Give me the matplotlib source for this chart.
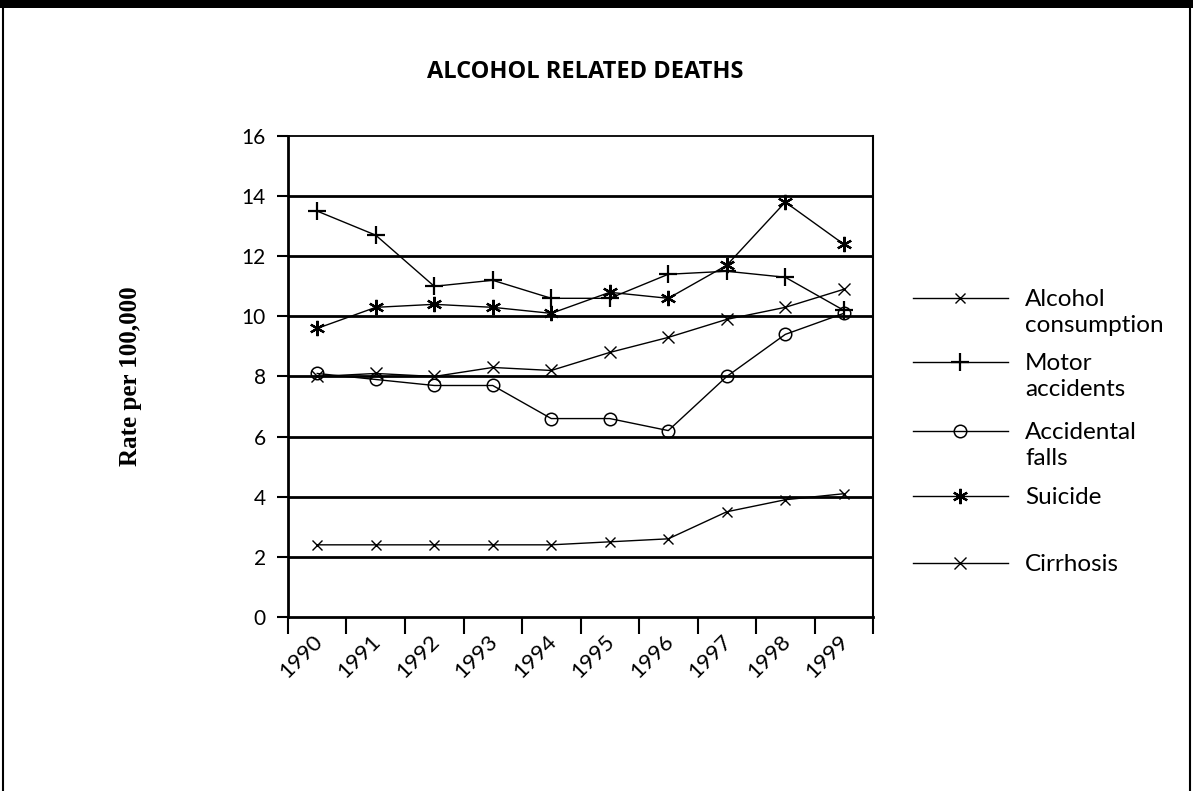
import matplotlib.pyplot as plt
import numpy as np
from matplotlib.lines import Line2D
from matplotlib.patches import Rectangle
import matplotlib.transforms as mtransforms

years = ['1990', '1991', '1992', '1993', '1994', '1995', '1996', '1997', '1998', '1999']
alcohol = [2.4, 2.4, 2.4, 2.4, 2.4, 2.5, 2.6, 3.5, 3.9, 4.1]
motor = [13.5, 12.7, 11.0, 11.2, 10.6, 10.6, 11.4, 11.5, 11.3, 10.2]
falls = [8.1, 7.9, 7.7, 7.7, 6.6, 6.6, 6.2, 8.0, 9.4, 10.1]
suicide = [9.6, 10.3, 10.4, 10.3, 10.1, 10.8, 10.6, 11.7, 13.8, 12.4]
cirrhosis = [8.0, 8.1, 8.0, 8.3, 8.2, 8.8, 9.3, 9.9, 10.3, 10.9]

labels = ['Alcohol\nconsumption', 'Motor\naccidents', 'Accidental\nfalls', 'Suicide', 'Cirrhosis']

plt.rcParams['font.family'] = ['Lato', 'DejaVu Sans']

fig = plt.figure(figsize=(11.93, 7.91), dpi=100)
ax = fig.add_axes([0.2414, 0.22, 0.4904, 0.6081])

x = np.arange(len(years))
styles = [
    dict(marker='x', ms=7, mew=1.0),
    dict(marker='+', ms=13, mew=1.6),
    dict(marker='o', ms=9, mfc='none', mew=1.1),
    dict(marker=(6, 2, 0), ms=11, mew=1.6),
    dict(marker='x', ms=8, mew=1.0),
]
series = [alcohol, motor, falls, suicide, cirrhosis]
for vals, st in zip(series, styles):
    ax.plot(x, vals, color='black', lw=1.0, mec='black', **st)

ax.set_xlim(-0.5, len(years) - 0.5)
ax.set_ylim(0, 16)
ax.set_yticks(range(0, 17, 2))
ax.set_xticks(np.arange(-0.5, len(years)), minor=False)
ax.set_xticklabels([])
ax.set_xticks(x, minor=True)
ax.set_xticklabels(years, minor=True, rotation=45, ha='right', fontsize=16)
ax.tick_params(axis='x', which='major', length=12, width=1.5, direction='out')
ax.tick_params(axis='x', which='minor', length=0, pad=10)
ax.tick_params(axis='y', length=8, width=1.5, labelsize=15, pad=8)
offset = mtransforms.ScaledTranslation(9 / 100, 0, fig.dpi_scale_trans)
for lab in ax.get_xticklabels(minor=True):
    lab.set_transform(lab.get_transform() + offset)

for yv in range(2, 16, 2):
    ax.axhline(yv, color='black', lw=2.0, zorder=0.5)

ax.spines['left'].set_linewidth(2.0)
ax.spines['bottom'].set_linewidth(2.0)
ax.spines['top'].set_linewidth(1.3)
ax.spines['right'].set_linewidth(1.5)

fig.text(585 / 1193, 1 - 72 / 791, 'ALCOHOL RELATED DEATHS', ha='center', va='center',
         fontsize=17, fontweight='bold', family=['Open Sans', 'DejaVu Sans'])
fig.text(0.109, 0.525, 'Rate per 100,000', rotation=90, ha='center', va='center',
         fontsize=18, fontweight='bold', family=['Liberation Serif'])

# legend drawn at the right of the chart
leg_y = [298, 362, 431, 496, 563]
for yy, lab, st in zip(leg_y, labels, styles):
    fy = 1 - yy / 791
    fig.add_artist(Line2D([913 / 1193, 1008 / 1193], [fy, fy], color='black', lw=1.0,
                          transform=fig.transFigure))
    fig.add_artist(Line2D([960 / 1193], [fy], color='black', lw=0, mec='black',
                          transform=fig.transFigure, **st))
    fig.text(1025 / 1193, fy + 9 / 791, lab, ha='left', va='top', fontsize=17.5,
             linespacing=1.3)

# page frame and scanned top band
fig.add_artist(Rectangle((0, 1 - 8 / 791), 1, 8 / 791, transform=fig.transFigure,
                         color='black', lw=0))
fig.add_artist(Line2D([3 / 1193, 3 / 1193], [0, 1], color='black', lw=1.5,
                      transform=fig.transFigure))
fig.add_artist(Line2D([1190 / 1193, 1190 / 1193], [0, 1], color='black', lw=1.5,
                      transform=fig.transFigure))

fig.savefig('out.png', dpi=100)
